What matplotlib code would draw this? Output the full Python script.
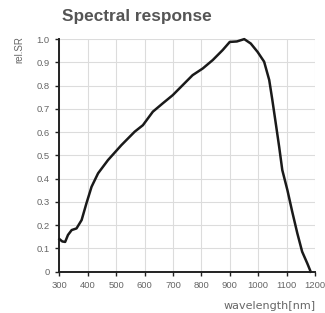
import matplotlib
matplotlib.use("Agg")
import matplotlib.pyplot as plt

wavelength = [300, 310, 320, 330, 343, 360, 378, 395, 413, 436, 471, 518, 565, 594, 600,
              629, 664, 699, 734, 769, 805, 840, 875, 900, 925, 951, 974, 998, 1021,
              1039, 1050, 1062, 1074, 1085, 1103, 1120, 1138, 1155, 1173, 1185]
rel_sr = [0.14, 0.13, 0.128, 0.158, 0.179, 0.186, 0.222, 0.294, 0.365, 0.423, 0.48,
          0.544, 0.602, 0.63, 0.64, 0.688, 0.724, 0.759, 0.802, 0.845, 0.874, 0.91,
          0.953, 0.988, 0.99, 1.0, 0.981, 0.945, 0.903, 0.824, 0.738, 0.638, 0.537,
          0.437, 0.351, 0.258, 0.165, 0.086, 0.036, 0.0]
x_ticks = [300, 400, 500, 600, 700, 800, 900, 1000, 1100, 1200]
y_ticks = [0, 0.1, 0.2, 0.3, 0.4, 0.5, 0.6, 0.7, 0.8, 0.9, 1.0]
y_tick_labels = ["0", "0.1", "0.2", "0.3", "0.4", "0.5", "0.6", "0.7", "0.8", "0.9", "1.0"]

plt.rcParams['font.family'] = ['Liberation Sans', 'DejaVu Sans']
fig = plt.figure(figsize=(3.25, 3.13), dpi=100)
ax = fig.add_axes([0.183, 0.132, 0.786, 0.743])
ax.plot(wavelength, rel_sr, color='#1a1a1a', lw=1.8, clip_on=False, zorder=3)
ax.set_xlim(300, 1200)
ax.set_ylim(0, 1.0)
ax.set_xticks(x_ticks)
ax.set_yticks(y_ticks)
ax.set_yticklabels(y_tick_labels)
ax.grid(True, color='#dcdcdc', lw=0.8)
ax.set_axisbelow(True)
for s in ['top', 'right']:
    ax.spines[s].set_visible(False)
for s in ['left', 'bottom']:
    ax.spines[s].set_color('#222222')
    ax.spines[s].set_linewidth(1.4)
ax.tick_params(axis='both', direction='out', length=3, width=1, color='#222222',
               labelsize=6.8, labelcolor='#666666')
ax.tick_params(axis='y', pad=4)
ax.tick_params(axis='x', pad=4)

fig.text(62/325, 1 - 17/313, "Spectral response", fontsize=12.4, fontweight='bold',
         color='#555555', ha='left', va='center')
fig.text(19/325, 1 - 50/313, "rel.SR", fontsize=7, color='#666666', rotation=90,
         ha='center', va='center')
fig.text(316/325, 1 - 306/313, "wavelength[nm]", fontsize=8, color='#666666',
         ha='right', va='center', family='DejaVu Sans')

fig.savefig("out.png", dpi=100)
